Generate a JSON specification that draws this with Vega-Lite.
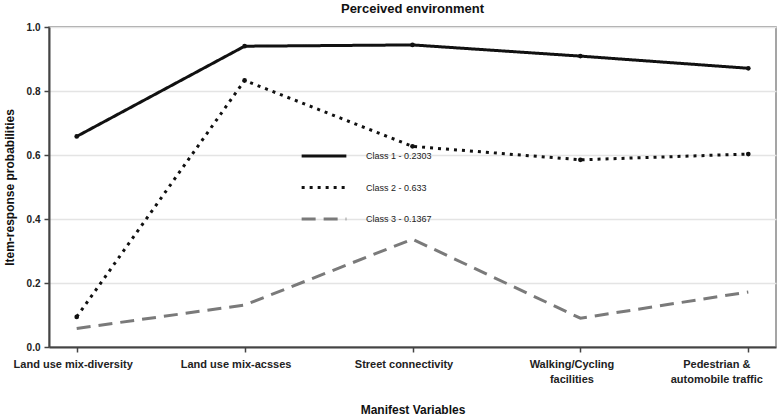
{
  "$schema": "https://vega.github.io/schema/vega-lite/v6.json",
  "autosize": {"type": "none"},
  "width": 727,
  "height": 320,
  "padding": {"left": 49, "top": 27, "right": 2, "bottom": 72},
  "background": "white",
  "title": {"text": "Perceived environment", "font": "Liberation Sans", "fontSize": 13, "fontWeight": "bold", "color": "#111", "offset": 6, "anchor": "middle"},
  "config": {
    "view": {"stroke": "#888", "strokeWidth": 1.5},
    "axis": {"labelFont": "Liberation Sans", "titleFont": "Liberation Sans", "labelColor": "#222", "titleColor": "#111", "labelFontWeight": "bold", "titleFontWeight": "bold"}
  },
  "data": {"values": [
    {"variable": "Land use mix-diversity", "class": "Class 1 - 0.2303", "p": 0.658},
    {"variable": "Land use mix-acsses", "class": "Class 1 - 0.2303", "p": 0.94},
    {"variable": "Street connectivity", "class": "Class 1 - 0.2303", "p": 0.944},
    {"variable": "Walking/Cycling facilities", "class": "Class 1 - 0.2303", "p": 0.909},
    {"variable": "Pedestrian & automobile traffic", "class": "Class 1 - 0.2303", "p": 0.871},
    {"variable": "Land use mix-diversity", "class": "Class 2 - 0.633", "p": 0.094},
    {"variable": "Land use mix-acsses", "class": "Class 2 - 0.633", "p": 0.833},
    {"variable": "Street connectivity", "class": "Class 2 - 0.633", "p": 0.627},
    {"variable": "Walking/Cycling facilities", "class": "Class 2 - 0.633", "p": 0.585},
    {"variable": "Pedestrian & automobile traffic", "class": "Class 2 - 0.633", "p": 0.603},
    {"variable": "Land use mix-diversity", "class": "Class 3 - 0.1367", "p": 0.058},
    {"variable": "Land use mix-acsses", "class": "Class 3 - 0.1367", "p": 0.131},
    {"variable": "Street connectivity", "class": "Class 3 - 0.1367", "p": 0.337},
    {"variable": "Walking/Cycling facilities", "class": "Class 3 - 0.1367", "p": 0.09},
    {"variable": "Pedestrian & automobile traffic", "class": "Class 3 - 0.1367", "p": 0.172}
  ]},
  "encoding": {
    "x": {
      "field": "variable", "type": "ordinal", "sort": null,
      "scale": {"type": "point", "padding": 0.165},
      "axis": {
        "title": "Manifest Variables", "titleFontSize": 12, "titlePadding": 20,
        "labelAngle": 0, "labelFontSize": 11, "labelPadding": 6, "labelLineHeight": 15, "labelBound": false, "labelOverlap": false,
        "labelOffset": {"condition": [{"test": "datum.value == 'Pedestrian & automobile traffic'", "value": -32}, {"test": "datum.value == 'Land use mix-diversity'", "value": -4}], "value": -9},
        "labelExpr": "datum.label == 'Walking/Cycling facilities' ? ['Walking/Cycling', 'facilities'] : datum.label == 'Pedestrian & automobile traffic' ? ['Pedestrian  &', 'automobile  traffic'] : datum.label",
        "domainColor": "#444", "domainWidth": 2, "tickColor": "#444", "tickWidth": 1.5, "tickSize": 5, "grid": false
      }
    },
    "y": {
      "field": "p", "type": "quantitative",
      "scale": {"domain": [0, 1], "nice": false},
      "axis": {
        "title": "Item-response probabilities", "titleFontSize": 12, "titlePadding": 10,
        "values": [0, 0.2, 0.4, 0.6, 0.8, 1.0], "format": ".1f", "labelFontSize": 10, "labelPadding": 4,
        "domainColor": "#444", "domainWidth": 2, "tickColor": "#444", "tickWidth": 1.5, "tickSize": 5,
        "grid": true, "gridColor": "#e4e4e4", "gridWidth": 1.5
      }
    }
  },
  "layer": [
    {
      "mark": {"type": "line", "strokeWidth": 3},
      "encoding": {
        "color": {
          "field": "class", "type": "nominal",
          "scale": {"domain": ["Class 1 - 0.2303", "Class 2 - 0.633", "Class 3 - 0.1367"], "range": ["#111111", "#111111", "#7a7a7a"]},
          "legend": {"orient": "none", "legendX": 251, "legendY": 105, "title": null, "symbolType": "stroke", "symbolSize": 2000, "symbolStrokeWidth": 3, "labelFont": "Liberation Sans", "labelFontSize": 9, "labelColor": "#222", "labelOffset": 18, "rowPadding": 1.5}
        },
        "strokeDash": {
          "field": "class", "type": "nominal",
          "scale": {"domain": ["Class 1 - 0.2303", "Class 2 - 0.633", "Class 3 - 0.1367"], "range": [[1, 0], [3, 5], [14, 8]]},
          "legend": {"orient": "none", "legendX": 251, "legendY": 105, "title": null, "symbolType": "stroke", "symbolSize": 2000, "symbolStrokeWidth": 3, "labelFont": "Liberation Sans", "labelFontSize": 9, "labelColor": "#222", "labelOffset": 18, "rowPadding": 1.5}
        }
      }
    },
    {
      "transform": [{"filter": "datum['class'] != 'Class 3 - 0.1367'"}],
      "mark": {"type": "point", "filled": true, "color": "#111", "size": 22, "opacity": 1},
      "encoding": {}
    }
  ]
}
